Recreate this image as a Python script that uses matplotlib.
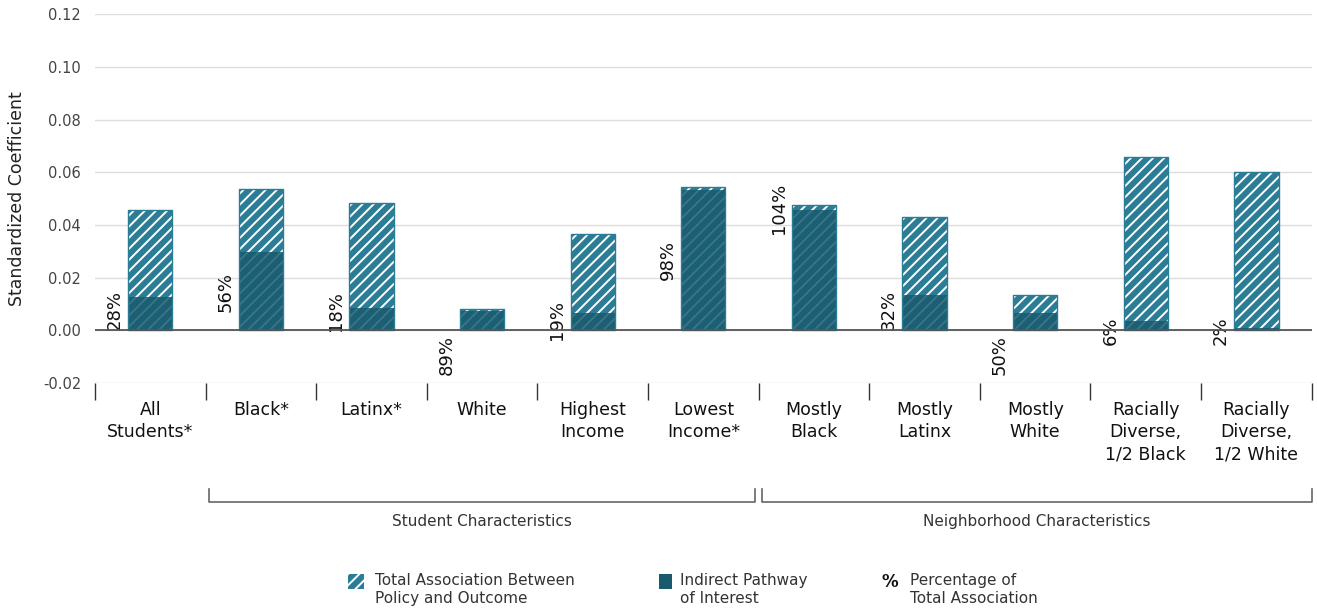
import matplotlib
matplotlib.use("Agg")
import matplotlib.pyplot as plt
from matplotlib.patches import Rectangle

categories = ["All\nStudents*", "Black*", "Latinx*", "White", "Highest\nIncome",
              "Lowest\nIncome*", "Mostly\nBlack", "Mostly\nLatinx", "Mostly\nWhite",
              "Racially\nDiverse,\n1/2 Black", "Racially\nDiverse,\n1/2 White"]
total_assoc = [0.0455, 0.0535, 0.0482, 0.0080, 0.0366, 0.0543, 0.0474, 0.0431, 0.0133, 0.0656, 0.0601]
indirect = [0.0127, 0.0298, 0.0085, 0.0072, 0.0067, 0.0532, 0.0455, 0.0136, 0.0067, 0.0035, 0.0010]
pct_labels = ["28%", "56%", "18%", "89%", "19%", "98%", "104%", "32%", "50%", "6%", "2%"]
# vertical centre of each rotated percentage label, in data units
pct_label_y = [0.0076, 0.0144, 0.0072, -0.0095, 0.0040, 0.0266, 0.0463, 0.0076, -0.0095, 0.0, 0.0]
groups = ["Student Characteristics", "Neighborhood Characteristics"]
group_spans = [(0.53, 5.47), (5.53, 10.5)]

TEAL = "#2b7c95"
DARK = "#195a6f"

plt.rcParams["font.family"] = "DejaVu Sans"
plt.rcParams["hatch.linewidth"] = 1.4

fig = plt.figure(figsize=(13.17, 6.13), dpi=100)
ax = fig.add_axes([0.0721, 0.375, 0.9239, 0.602])

x = list(range(len(categories)))
bw = 0.4
ax.bar(x, total_assoc, width=bw, color=TEAL, edgecolor="white", hatch="///", linewidth=0, zorder=2)
ax.bar(x, total_assoc, width=bw, fill=False, edgecolor=TEAL, linewidth=1.0, zorder=4)
ax.bar(x, indirect, width=bw, color=DARK, alpha=0.85, linewidth=0, zorder=3)

for xi, lab, ly in zip(x, pct_labels, pct_label_y):
    ax.text(xi - bw / 2 - 0.12, ly, lab, rotation=90, ha="center", va="center",
            fontsize=13, color="#111111")

ax.set_xlim(-0.5, 10.5)
ax.set_ylim(-0.02, 0.12)
ax.set_yticks([-0.02, 0.0, 0.02, 0.04, 0.06, 0.08, 0.10, 0.12])
ax.set_yticklabels(["-0.02", "0.00", "0.02", "0.04", "0.06", "0.08", "0.10", "0.12"],
                   fontsize=10.5, color="#444444")
ax.tick_params(axis="y", length=0, pad=10)
ax.grid(axis="y", color="#dddddd", linewidth=1.0, zorder=0)
ax.axhline(0, color="#555555", linewidth=1.3, zorder=5)
for s in ax.spines.values():
    s.set_visible(False)
ax.set_ylabel("Standardized Coefficient", fontsize=12.5, color="#222222", labelpad=12)

ax.set_xticks(x)
ax.set_xticklabels(categories, fontsize=12.5, color="#111111", linespacing=1.3, va="top")
ax.set_xticks([i - 0.5 for i in range(len(categories) + 1)], minor=True)
ax.tick_params(axis="x", which="major", length=0, pad=13)
ax.tick_params(axis="x", which="minor", length=12, width=1.0, color="#333333", direction="out")

# group brackets under the category labels
trans = ax.get_xaxis_transform()
y_line = -(502 - 383) / 369
y_top = -(489 - 383) / 369
for name, (x0, x1) in zip(groups, group_spans):
    ax.plot([x0, x0, x1, x1], [y_top, y_line, y_line, y_top], transform=trans,
            color="#666666", linewidth=1.2, clip_on=False)
    ax.text((x0 + x1) / 2, -(514 - 383) / 369, name, transform=trans, ha="center", va="top",
            fontsize=11, color="#333333")

# legend drawn by hand
W, H = 1317, 613
fig.patches.append(Rectangle((348 / W, 1 - 589 / H), 16 / W, 15 / H, transform=fig.transFigure,
                             facecolor=TEAL, edgecolor="white", hatch="///", linewidth=0))
fig.patches.append(Rectangle((659 / W, 1 - 589 / H), 13 / W, 15 / H, transform=fig.transFigure,
                             facecolor=DARK, linewidth=0))
fig.text(375 / W, 1 - 573 / H, "Total Association Between\nPolicy and Outcome", fontsize=11,
         color="#333333", va="top", linespacing=1.25)
fig.text(680 / W, 1 - 573 / H, "Indirect Pathway\nof Interest", fontsize=11,
         color="#333333", va="top", linespacing=1.25)
fig.text(882 / W, 1 - 573 / H, "%", fontsize=12, color="#111111", va="top", fontweight="bold")
fig.text(910 / W, 1 - 573 / H, "Percentage of\nTotal Association", fontsize=11,
         color="#333333", va="top", linespacing=1.25)

fig.savefig("out.png", dpi=100)
